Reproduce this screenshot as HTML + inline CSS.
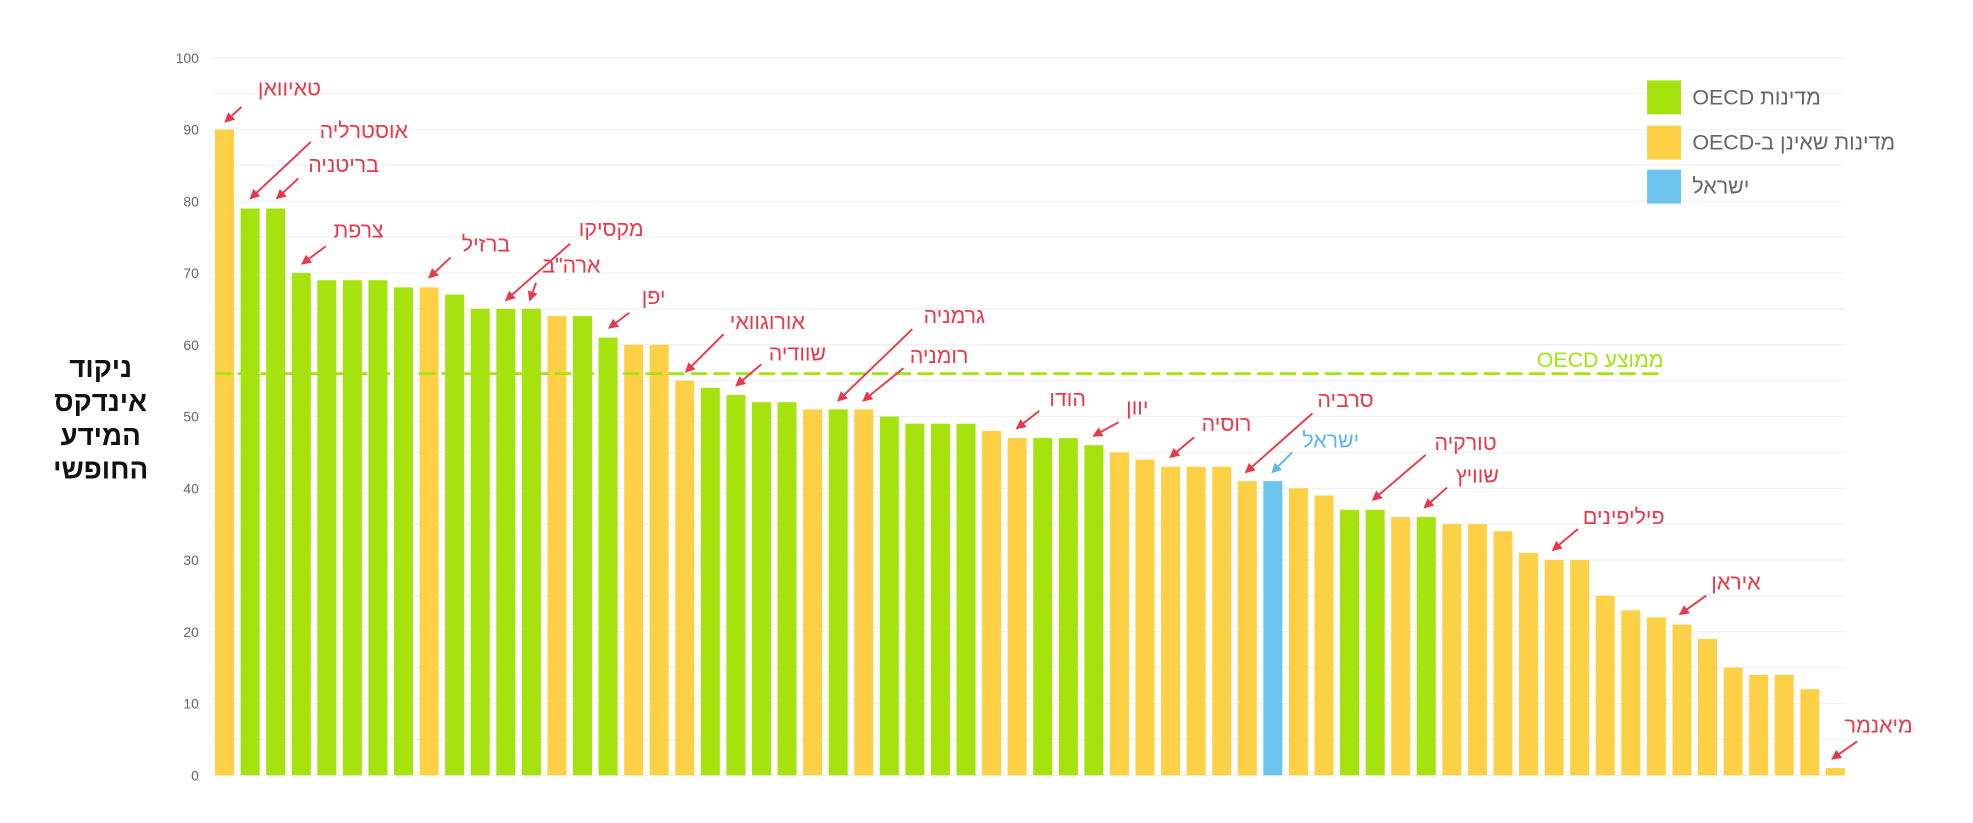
<!DOCTYPE html>
<html><head><meta charset="utf-8"><style>html,body{margin:0;padding:0;background:#fff}svg{display:block}</style></head>
<body>
<svg width="1973" height="823" viewBox="0 0 1568 655" preserveAspectRatio="none" xmlns="http://www.w3.org/2000/svg" font-family="Liberation Sans, DejaVu Sans, sans-serif">
<defs><marker id="ar" markerWidth="8" markerHeight="8" refX="7" refY="4" orient="auto" markerUnits="userSpaceOnUse"><path d="M0,0 L8,4 L0,8 Z" fill="#e8394a"/></marker>
<marker id="ab" markerWidth="8" markerHeight="8" refX="7" refY="4" orient="auto" markerUnits="userSpaceOnUse"><path d="M0,0 L8,4 L0,8 Z" fill="#5bb8ea"/></marker></defs>
<g id="grid" stroke="#f1f1f1" stroke-width="1"></g>
<g id="ticks" font-size="11" fill="#666" text-anchor="end"></g>
<g id="bars"></g>
<line x1="171" y1="297.4" x2="1322" y2="297.4" stroke="#a6e20e" stroke-width="2.2" stroke-dasharray="13,5"/>
<text x="1322" y="292" font-size="17" fill="#a6e20e" direction="rtl" text-anchor="start">ממוצע OECD</text>
<g font-size="17" fill="#666">
<rect x="1309" y="64" width="27" height="27" fill="#a6e20e"/>
<rect x="1309" y="100" width="27" height="27" fill="#fdd046"/>
<rect x="1309" y="135" width="27" height="27" fill="#6cc3ee"/>
<text x="1345" y="83" direction="rtl" text-anchor="end">מדינות OECD</text>
<text x="1345" y="119" direction="rtl" text-anchor="end">מדינות שאינן ב-OECD</text>
<text x="1345" y="154" direction="rtl" text-anchor="end">ישראל</text>
</g>
<g font-size="22" font-weight="bold" fill="#111" text-anchor="middle">
<text x="80" y="300">ניקוד</text><text x="80" y="327">אינדקס</text><text x="80" y="354">המידע</text><text x="80" y="381">החופשי</text>
</g>
<g id="ann" font-size="17" fill="#e8394a" stroke-width="1.5"></g>
<script>
var NS="http://www.w3.org/2000/svg";
function el(t,a,p,txt){var e=document.createElementNS(NS,t);for(var k in a)e.setAttribute(k,a[k]);if(txt)e.textContent=txt;document.getElementById(p).appendChild(e);return e;}
var y0=617,u=5.71;
for(var v=0;v<=100;v+=5){var y=y0-v*u;el('line',{x1:168,x2:1466,y1:y,y2:y},'grid');if(v%10==0)el('text',{x:158,y:y+4},'ticks',''+v);}
var d="90Y 79G 79G 70G 69G 69G 69G 68G 68Y 67G 65G 65G 65G 64Y 64G 61G 60Y 60Y 55Y 54G 53G 52G 52G 51Y 51G 51Y 50G 49G 49G 49G 48Y 47Y 47G 47G 46G 45Y 44Y 43Y 43Y 43Y 41Y 41B 40Y 39Y 37G 37G 36Y 36G 35Y 35Y 34Y 31Y 30Y 30Y 25Y 23Y 22Y 21Y 19Y 15Y 14Y 14Y 12Y 1Y".split(' ');
var col={G:'#a6e20e',Y:'#fdd046',B:'#6cc3ee'};
d.forEach(function(s,i){var v=parseFloat(s),c=s.slice(-1);var h=v*u;el('rect',{x:170.9+i*20.32,y:y0-h,width:15.1,height:h,fill:col[c]},'bars');});
var A=[["טאיוואן",205,76,192,85,179,97],["אוסטרליה",254,110,247,113,199,158],["בריטניה",245,137,237,142,220,158],["צרפת",265,189,259,196,240,210],["ברזיל",367,200,358,205,341,221],["מקסיקו",460,188,453,194,402,239],["ארה\"ב",431,217,426,225,421,239],["יפן",510,242,500,249,484,261],["אורוגוואי",580,262,575,266,545,296],["שוודיה",611,287,605,290,585,307],["גרמניה",734,257,725,262,666,319],["רומניה",723,289,718,293,686,319],["הודו",834,323,826,327,808,341],["יוון",895,330,889,336,869,347],["רוסיה",955,343,949,348,930,364],["סרביה",1047,324,1043,329,990,376],["טורקיה",1140,358,1133,362,1091,398],["שוויץ",1157,384,1150,388,1132,404],["פיליפינים",1258,417,1254,421,1234,438],["איראן",1360,469,1356,474,1335,489],["מיאנמר",1466,583,1476,590,1456,604]];
A.forEach(function(a){el('text',{x:a[1],y:a[2],direction:'rtl','text-anchor':'end'},'ann',a[0]);el('line',{x1:a[3],y1:a[4],x2:a[5],y2:a[6],stroke:'#e8394a','marker-end':'url(#ar)'},'ann');});
el('text',{x:1035,y:356,direction:'rtl','text-anchor':'end',fill:'#5bb8ea'},'ann','ישראל');
el('line',{x1:1027,y1:360,x2:1011,y2:376,stroke:'#5bb8ea','marker-end':'url(#ab)'},'ann');
</script>
</svg>
</body></html>
